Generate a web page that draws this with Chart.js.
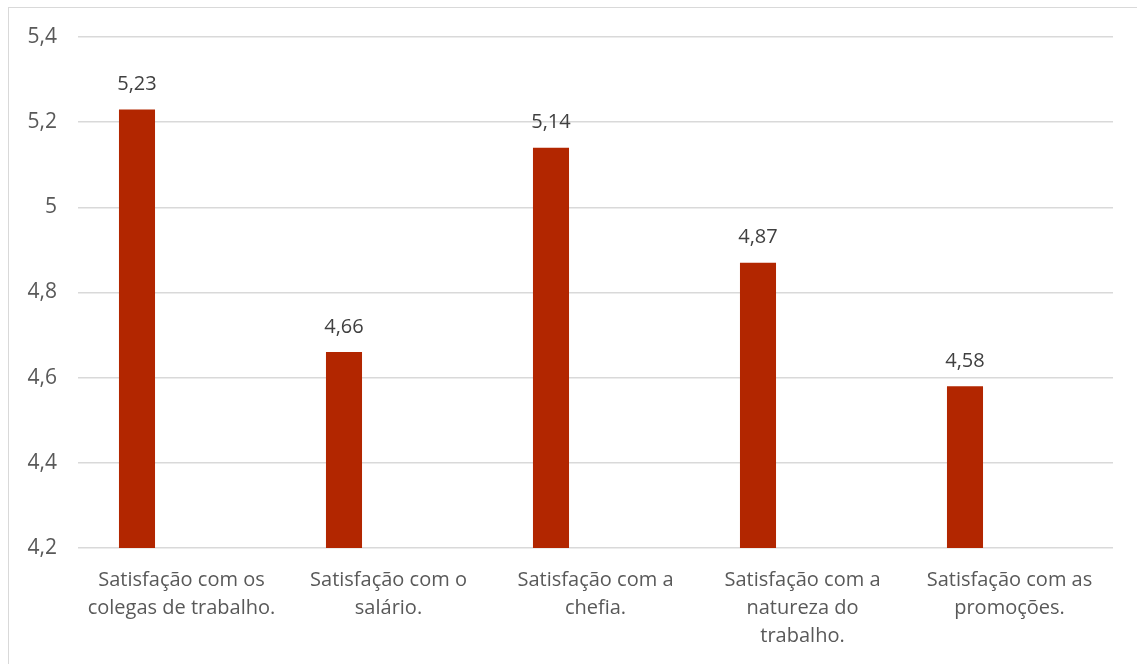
<!DOCTYPE html>
<html>
<head>
<meta charset="utf-8">
<script src="https://cdn.jsdelivr.net/npm/chart.js@4/dist/chart.umd.min.js"></script>
<style>
  html, body { margin: 0; padding: 0; background: #fff; overflow: hidden; }
  #wrap { position: relative; width: 1137px; height: 664px; }
  #frame { position: absolute; left: 8px; top: 7px; width: 1200px; height: 700px; border: 1px solid #d9d9d9; box-sizing: border-box; }
  canvas { position: absolute; left: 0; top: 0; }
</style>
</head>
<body>
<div id="wrap">
  <div id="frame"></div>
  <canvas id="bar" width="1137" height="664"></canvas>
</div>
<script>
// satisfação - médias por dimensão

var categorias = [
    ['Satisfação com os', 'colegas de trabalho.'],
    ['Satisfação com o', 'salário.'],
    ['Satisfação com a', 'chefia.'],
    ['Satisfação com a', 'natureza do', 'trabalho.'],
    ['Satisfação com as', 'promoções.']
];
var medias = [5.23, 4.66, 5.14, 4.87, 4.58];
var vazio = [null, null, null, null, null];
var yTicks = [4.2, 4.4, 4.6, 4.8, 5, 5.2, 5.4];

var cinza = '#595959';
var fonte = "'Open Sans', 'Noto Sans', sans-serif";

function virgula(v) {
    return String(v).replace('.', ',');
}

// rótulos de valor em cima das barras
var rotulos = {
    id: 'rotulos',
    afterDatasetsDraw: function (chart) {
        var ctx = chart.ctx;
        var meta = chart.getDatasetMeta(0);
        ctx.save();
        ctx.font = '20px ' + fonte;
        ctx.fillStyle = '#404040';
        ctx.textAlign = 'center';
        ctx.textBaseline = 'middle';
        meta.data.forEach(function (bar, i) {
            ctx.fillText(virgula(medias[i]), bar.x, bar.y - 25);
        });
        ctx.restore();
    }
};

var ctx = document.getElementById('bar').getContext('2d');
var chart = new Chart(ctx, {
    type: 'bar',
    data: {
        labels: categorias,
        datasets: [{
            data: medias,
            backgroundColor: '#b22600',
            categoryPercentage: 0.86,
            barPercentage: 0.405
        }, {
            data: vazio,
            backgroundColor: 'transparent',
            categoryPercentage: 0.86,
            barPercentage: 0.405
        }]
    },
    options: {
        responsive: false,
        animation: false,
        layout: { padding: { left: 0, right: 24, top: 37, bottom: 0 } },
        plugins: {
            legend: { display: false },
            tooltip: { enabled: false }
        },
        scales: {
            x: {
                grid: { display: false, drawTicks: false },
                border: { display: false },
                ticks: {
                    color: cinza,
                    font: { family: fonte, size: 20, lineHeight: 1.4 },
                    padding: 18,
                    maxRotation: 0,
                    autoSkip: false
                },
                afterFit: function (s) { s.height = 116; }
            },
            y: {
                min: 4.2,
                max: 5.4,
                afterBuildTicks: function (s) {
                    s.ticks = yTicks.map(function (v) { return { value: v }; });
                },
                grid: { color: '#d9d9d9', lineWidth: 1.5, drawTicks: false },
                border: { display: false },
                ticks: {
                    color: cinza,
                    font: { family: fonte, size: 21 },
                    padding: 21,
                    callback: function (v) { return virgula(v); }
                },
                afterFit: function (s) { s.width = 78; }
            }
        }
    },
    plugins: [rotulos]
});
</script>
</body>
</html>
